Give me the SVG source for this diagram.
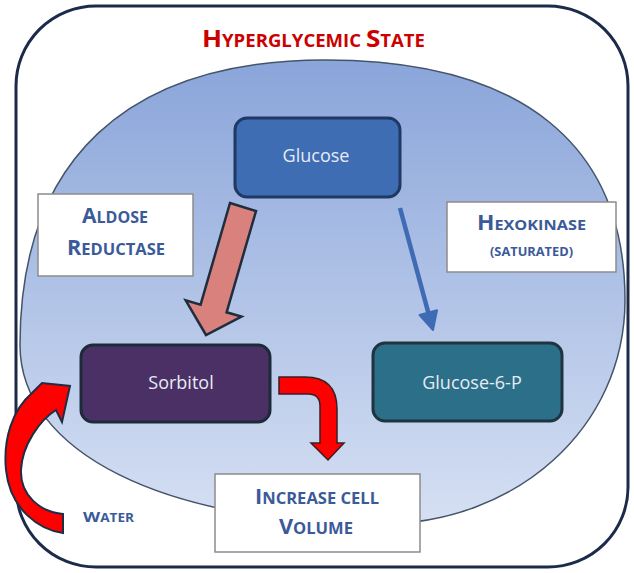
<svg xmlns="http://www.w3.org/2000/svg" width="634" height="573" viewBox="0 0 634 573">
  <defs>
    <linearGradient id="cellGrad" x1="0" y1="0" x2="0" y2="1">
      <stop offset="0" stop-color="#8aa5da"/>
      <stop offset="1" stop-color="#d6e0f3"/>
    </linearGradient>
    <style>
      .node-text { font-family: "Open Sans", "DejaVu Sans", sans-serif; font-size: 18px; fill: #e6ebf5; text-anchor: middle; }
      .label-box { fill: #ffffff; stroke: #8c8c8c; stroke-width: 1.5; }
      .label { font-family: "Open Sans", "DejaVu Sans", sans-serif; font-weight: 700; fill: #3b5a9a; }
      .node { stroke-width: 3; }
    </style>
  </defs>

  <g id="background">
    <rect x="16" y="6" width="612" height="561" rx="80" ry="80" fill="#ffffff" stroke="#1c2b4a" stroke-width="3"/>
    <path id="cell" d="M325,60 C521,60 625,144 625,300 C625,428 516,524 380,524 C164,524 20,452 20,345 C20,160 127,60 325,60 Z" fill="url(#cellGrad)" stroke="#44546a" stroke-width="1.5"/>
    <text x="202" y="47" textLength="223" lengthAdjust="spacingAndGlyphs" font-family="'Open Sans', 'DejaVu Sans', sans-serif" font-weight="700" fill="#cc0000"><tspan font-size="24">H</tspan><tspan font-size="17">YPERGLYCEMIC</tspan><tspan font-size="17"> </tspan><tspan font-size="24">S</tspan><tspan font-size="17">TATE</tspan></text>
  </g>

  <g id="label-aldose">
    <rect class="label-box" x="38" y="194" width="155" height="82"/>
    <text class="label" x="82" y="223" textLength="66" lengthAdjust="spacingAndGlyphs"><tspan font-size="21">A</tspan><tspan font-size="16">LDOSE</tspan></text>
    <text class="label" x="67" y="255" textLength="98" lengthAdjust="spacingAndGlyphs"><tspan font-size="21">R</tspan><tspan font-size="16">EDUCTASE</tspan></text>
  </g>

  <g id="label-hexokinase">
    <rect class="label-box" x="447" y="202" width="169" height="70"/>
    <text class="label" x="477" y="230" textLength="109" lengthAdjust="spacingAndGlyphs"><tspan font-size="21">H</tspan><tspan font-size="15">EXOKINASE</tspan></text>
    <text class="label" x="490" y="256" font-size="13" textLength="83" lengthAdjust="spacingAndGlyphs">(SATURATED)</text>
  </g>

  <g id="label-increase">
    <rect class="label-box" x="215" y="474" width="205" height="78"/>
    <text class="label" x="255" y="504" textLength="124" lengthAdjust="spacingAndGlyphs"><tspan font-size="21">I</tspan><tspan font-size="16">NCREASE CELL</tspan></text>
    <text class="label" x="279" y="534" textLength="74" lengthAdjust="spacingAndGlyphs"><tspan font-size="21">V</tspan><tspan font-size="16">OLUME</tspan></text>
  </g>

  <g id="label-water">
    <text class="label" x="83" y="522" textLength="51" lengthAdjust="spacingAndGlyphs"><tspan font-size="15">W</tspan><tspan font-size="11.5">ATER</tspan></text>
  </g>

  <g id="connectors">
    <polygon id="arrow-aldose" points="230,203 256,211 226.6,312.3 241.5,316.6 206,335 185.7,300.4 200.6,304.7" fill="#d9817d" stroke="#1f2d3d" stroke-width="2.5" stroke-linejoin="miter"/>
    <g id="arrow-hexokinase">
      <line x1="400" y1="208" x2="428.3" y2="312.6" stroke="#3f6bb5" stroke-width="4.5"/>
      <polygon points="437,310.3 433,330 419.6,315" fill="#3f6bb5" stroke="#3f6bb5" stroke-width="2" stroke-linejoin="round"/>
    </g>
    <path id="arrow-volume" d="M279,377 L305,377 Q337,377 337,409 L337,443 L344,443 L328,460 L311,443 L320,443 L320,406 Q320,394 308,394 L279,394 Z" fill="#ff0000" stroke="#3a1f24" stroke-width="1.5" stroke-linejoin="miter"/>
    <path id="arrow-water" d="M63,533 C40,530 10,510 6,470 C3,440 12,410 32,393 L42,383 L70,386 L62,422 L56,410 C40,420 22,445 21,470 C20,495 40,512 63,514 Z" fill="#ff0000" stroke="#1f2d45" stroke-width="2" stroke-linejoin="miter"/>
  </g>

  <g id="glucose">
    <rect class="node" x="235" y="118" width="165" height="79" rx="12" fill="#3f6db3" stroke="#1f3864"/>
    <text class="node-text" x="316" y="162">Glucose</text>
  </g>

  <g id="sorbitol">
    <rect class="node" x="81" y="345" width="189" height="77" rx="12" fill="#4b3066" stroke="#1e2a3a"/>
    <text class="node-text" x="181" y="389">Sorbitol</text>
  </g>

  <g id="glucose-6-p">
    <rect class="node" x="373" y="343" width="189" height="78" rx="12" fill="#2b6f88" stroke="#1e3440"/>
    <text class="node-text" x="472" y="389">Glucose-6-P</text>
  </g>
</svg>
